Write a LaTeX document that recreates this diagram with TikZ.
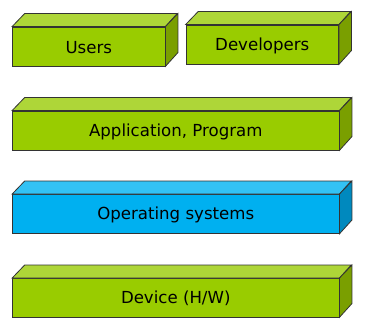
\documentclass[tikz,border=0pt]{standalone}
\usepackage{fontspec}
\setmainfont{DejaVu Sans}
\definecolor{gfront}{HTML}{99CC00}
\definecolor{gtop}{HTML}{AED638}
\definecolor{gside}{HTML}{7A9F00}
\definecolor{bfront}{HTML}{00B0F0}
\definecolor{btop}{HTML}{33C2F4}
\definecolor{bside}{HTML}{0089BE}
\tikzset{
  facebox/.style={rectangle, draw=black!80, line width=0.8pt, inner sep=0pt,
    font=\fontsize{16.6}{19}\selectfont, text=black},
  faceline/.style={draw=black!80, line width=0.8pt, line join=miter},
}
% #1 name, #2 cx, #3 cy, #4 width, #5 height, #6 colour prefix, #7 text
\newcommand{\layerbox}[7]{%
  \node[facebox, fill=#6front, minimum width=#4pt, minimum height=#5pt] (#1) at (#2,#3) {};
  \node[font=\fontsize{16.6}{19}\selectfont, inner sep=0pt] (#1-label) at ([yshift=-1pt]#1.center) {#7};
  \draw[faceline, fill=#6top] (#1.north west) -- ++(12.5,-13) -- ++(#4,0) -- (#1.north east) -- cycle;
  \draw[faceline, fill=#6side] (#1.north east) -- ++(12.5,-13) -- ++(0,#5) -- (#1.south east) -- cycle;
}
\begin{document}
\begin{tikzpicture}[x=1pt,y=-1pt]
\useasboundingbox[fill=white] (0,0) rectangle (373,326);
\layerbox{users}{88.75}{46.5}{152.5}{39}{g}{Users}
\layerbox{devs}{262.25}{44.5}{152.5}{39}{g}{Developers}
\layerbox{app}{175.75}{130.5}{326.5}{39}{g}{Application, Program}
\layerbox{os}{175.75}{214}{326.5}{39}{b}{Operating systems}
\layerbox{hw}{175.75}{297.75}{326.5}{38.5}{g}{Device (H/W)}
\end{tikzpicture}
\end{document}
